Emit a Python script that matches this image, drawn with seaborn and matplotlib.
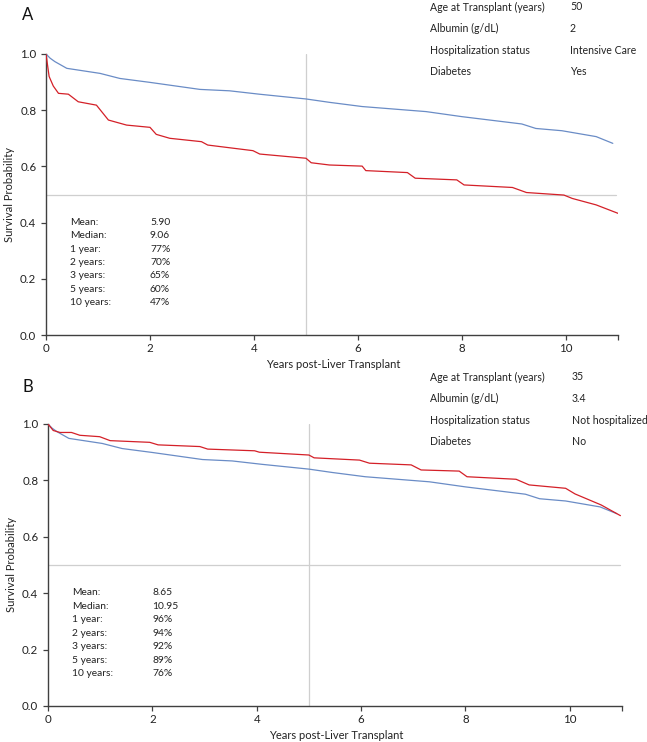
import numpy as np
import pandas as pd
import matplotlib
matplotlib.use("Agg")
import matplotlib.pyplot as plt
import seaborn as sns

# reference (average patient) curve, same in both panels
years_ref = [0, 0.08, 0.17, 0.4, 1.04, 1.42, 2.0, 2.96, 3.53, 4.1, 5.0, 5.45,
             6.08, 7.31, 8.0, 9.15, 9.42, 9.92, 10.58, 10.9]
surv_ref = [1.0, 0.985, 0.973, 0.949, 0.931, 0.913, 0.899, 0.874, 0.869, 0.857, 0.840, 0.828,
            0.813, 0.795, 0.777, 0.751, 0.735, 0.727, 0.706, 0.682]

# patient A
years_a = [0, 0.06, 0.14, 0.24, 0.43, 0.62, 0.97, 1.2, 1.55, 2.0, 2.12, 2.38, 2.99, 3.11,
           3.98, 4.11, 5.0, 5.1, 5.45, 6.08, 6.15, 6.95, 7.1, 7.9, 8.04, 8.97, 9.24,
           9.96, 10.12, 10.58, 11.0]
surv_a = [1.0, 0.92, 0.886, 0.860, 0.857, 0.830, 0.818, 0.765, 0.747, 0.739, 0.714, 0.700,
          0.688, 0.676, 0.656, 0.644, 0.629, 0.613, 0.605, 0.601, 0.585, 0.578, 0.558,
          0.552, 0.534, 0.525, 0.507, 0.498, 0.486, 0.463, 0.433]

# patient B
years_b = [0, 0.1, 0.23, 0.45, 0.61, 0.99, 1.19, 1.95, 2.11, 2.91, 3.06, 3.96, 4.05, 5.0,
           5.1, 5.97, 6.16, 6.96, 7.15, 7.88, 8.03, 8.97, 9.22, 9.92, 10.1, 10.6, 10.97]
surv_b = [1.0, 0.977, 0.970, 0.970, 0.960, 0.955, 0.941, 0.935, 0.926, 0.920, 0.911, 0.905,
          0.900, 0.890, 0.880, 0.872, 0.861, 0.855, 0.837, 0.833, 0.813, 0.804, 0.784,
          0.772, 0.752, 0.713, 0.675]

stat_names = ["Mean:", "Median:", "1 year:", "2 years:", "3 years:", "5 years:", "10 years:"]
stats_a = ["5.90", "9.06", "77%", "70%", "65%", "60%", "47%"]
stats_b = ["8.65", "10.95", "96%", "94%", "92%", "89%", "76%"]

cov_names = ["Age at Transplant (years)", "Albumin (g/dL)", "Hospitalization status", "Diabetes"]
cov_a = ["50", "2", "Intensive Care", "Yes"]
cov_b = ["35", "3.4", "Not hospitalized", "No"]

sns.set_style("ticks")
plt.rcParams['font.family'] = ['Lato', 'DejaVu Sans']

W, H = 647, 742
fig = plt.figure(figsize=(W / 100, H / 100), dpi=100)

BLUE = "#6a8cc6"
RED = "#d42028"


def panel(rect, years_p, surv_p, stats, covs, letter, letter_y, cov_y, cov_x2):
	ax = fig.add_axes(rect)
	ref = pd.DataFrame({"years": years_ref, "surv": surv_ref})
	pat = pd.DataFrame({"years": years_p, "surv": surv_p})
	ax.axvline(5, color="#cfcfcf", lw=0.9, zorder=1)
	ax.plot([0, 10.97], [0.5, 0.5], color="#cfcfcf", lw=0.9, zorder=1)
	sns.lineplot(data=ref, x="years", y="surv", ax=ax, color=BLUE, lw=0.9, zorder=3)
	sns.lineplot(data=pat, x="years", y="surv", ax=ax, color=RED, lw=0.9, zorder=3)
	ax.set_xlim(0, 11)
	ax.set_ylim(0, 1)
	ax.set_xticks([0, 2, 4, 6, 8, 10, 11])
	ax.set_xticklabels(["0", "2", "4", "6", "8", "10", ""])
	ax.set_yticks([0, 0.2, 0.4, 0.6, 0.8, 1.0])
	ax.set_yticklabels(["0.0", "0.2", "0.4", "0.6", "0.8", "1.0"])
	for s in ["top", "right"]:
		ax.spines[s].set_visible(False)
	for s in ["left", "bottom"]:
		ax.spines[s].set_color("#404040")
		ax.spines[s].set_linewidth(1.0)
	ax.tick_params(axis="both", direction="out", length=3.5, width=0.9, color="#404040",
				   labelsize=8.3, labelcolor="#222222")
	ax.tick_params(axis="x", pad=2)
	ax.tick_params(axis="y", pad=3.5)
	ax.set_xlabel("Years post-Liver Transplant", fontsize=8, color="#222222")
	ax.set_ylabel("Survival Probability", fontsize=8, color="#222222")
	ax.xaxis.set_label_coords(0.503, -24 / 281)
	ax.yaxis.set_label_coords(-0.054, 0.5)
	for i, (n, v) in enumerate(zip(stat_names, stats)):
		y = 0.402 - i * 0.048
		ax.text(0.46, y, n, fontsize=7.4, va="center", ha="left", color="#222222")
		ax.text(2.0, y, v, fontsize=7.4, va="center", ha="left", color="#222222")
	fig.text(22 / W, 1 - letter_y / H, letter, fontsize=12, va="center", ha="left", color="#111111")
	for i, (n, v) in enumerate(zip(cov_names, covs)):
		y = 1 - (cov_y + i * 21.5) / H
		fig.text(430 / W, y, n, fontsize=7.6, va="center", ha="left", color="#222222")
		fig.text(cov_x2 / W, y, v, fontsize=7.6, va="center", ha="left", color="#222222")
	return ax


panel([46 / W, 1 - 335 / H, 572 / W, 281 / H], years_a, surv_a, stats_a, cov_a, "A", 15, 7, 570)
panel([48 / W, 1 - 706 / H, 574 / W, 282 / H], years_b, surv_b, stats_b, cov_b, "B", 387, 377, 572)

fig.savefig("out.png", dpi=100)
